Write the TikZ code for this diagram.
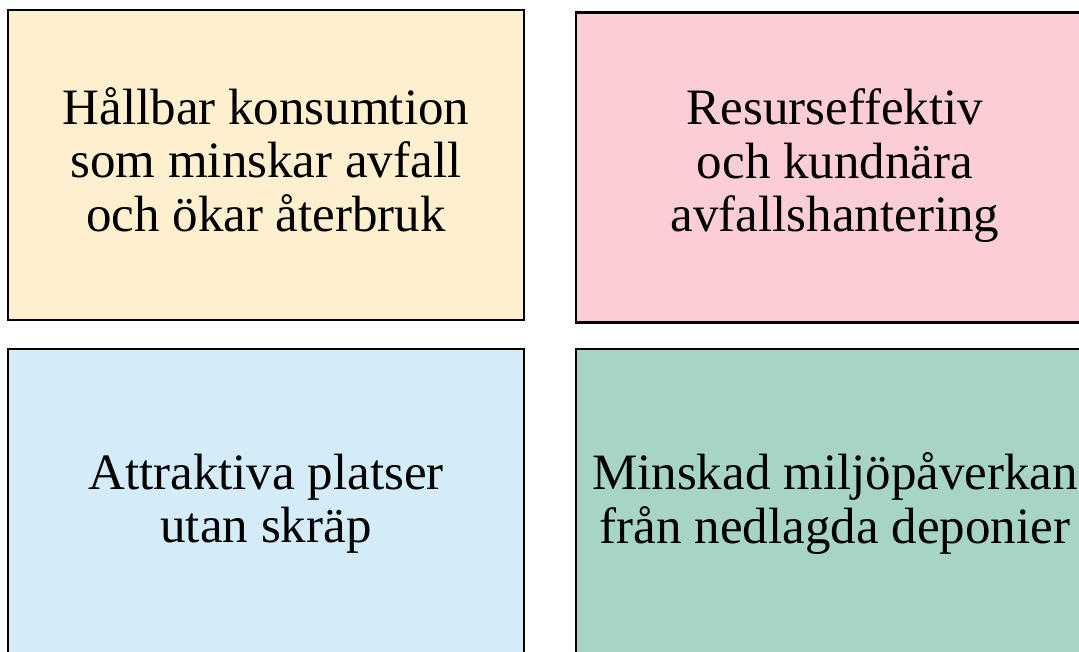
\documentclass[tikz,border=0pt]{standalone}
\usepackage{fontspec}
\setmainfont{Liberation Serif}
\definecolor{cyellow}{HTML}{FEF0CF}
\definecolor{cpink}{HTML}{FBCDD5}
\definecolor{cblue}{HTML}{D4ECF8}
\definecolor{cgreen}{HTML}{A6D4C5}
\begin{document}
\begin{tikzpicture}[x=1pt,y=-1pt,
  goalbox/.style={draw=black,line width=2.8pt,minimum width=516pt,minimum height=310pt,
    inner sep=0pt},
  goaltext/.style={inner sep=0pt,align=center,font=\fontsize{51}{53.5}\selectfont}]
\useasboundingbox (0,0) rectangle (1079,652);
\clip (0,0) rectangle (1079,652);
\node[goalbox,fill=cyellow] (a) at (266,165) {};
\node[goalbox,fill=cpink,minimum width=518pt] (b) at (835,167.5) {};
\node[goalbox,fill=cblue,minimum height=309pt] (c) at (266,503.5) {};
\node[goalbox,fill=cgreen,minimum width=518pt,minimum height=309pt] (d) at (835,503.5) {};
\node[goaltext] (ta) at ([yshift=5.5pt]a.center) {Hållbar konsumtion\\som minskar avfall\\och ökar återbruk};
\node[goaltext] (tb) at ([yshift=1.5pt]b.center) {Resurseffektiv\\och kundnära\\avfallshantering};
\node[goaltext] (tc) at (c.center) {Attraktiva platser\\utan skräp};
\node[goaltext] (td) at (d.center) {Minskad miljöpåverkan\\från nedlagda deponier};
\end{tikzpicture}
\end{document}
